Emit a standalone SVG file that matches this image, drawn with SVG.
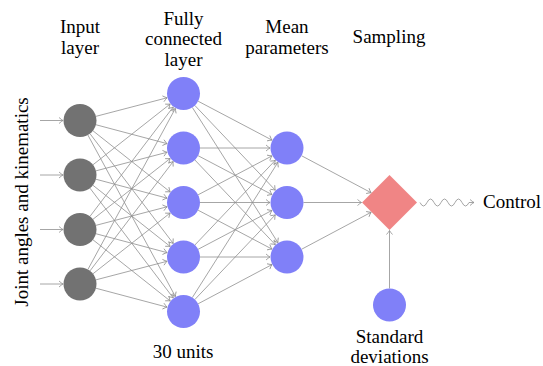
<svg xmlns="http://www.w3.org/2000/svg" width="543" height="366" viewBox="0 0 543 366">
<style>
.t{font-family:"Liberation Serif",Tinos,"Times New Roman",Times,"Noto Serif","DejaVu Serif",FreeSerif,serif;font-size:19px;fill:#000}
.c{text-anchor:middle}
.in{fill:#727272}
.hd{fill:#8080f8}
.e line,.e path{stroke:#8f8f8f;stroke-width:0.8;fill:none;marker-end:url(#a)}
</style>
<defs>
<marker id="a" viewBox="-5 -4 6 8" refX="0" refY="0" markerWidth="6" markerHeight="8" markerUnits="userSpaceOnUse" orient="auto" overflow="visible">
<path d="M-4,-3 Q-1.5,-0.8 0,0 Q-1.5,0.8 -4,3" fill="none" stroke="#8f8f8f" stroke-width="0.8"/>
</marker>
</defs>
<rect width="543" height="366" fill="#fff"/>
<g id="headers" class="t">
<text class="c" x="80" y="33">Input</text>
<text class="c" x="80" y="53.5">layer</text>
<text class="c" x="183.5" y="24.5">Fully</text>
<text class="c" x="183.5" y="45">connected</text>
<text class="c" x="183.5" y="65.5">layer</text>
<text class="c" x="287" y="33">Mean</text>
<text class="c" x="287" y="53.5">parameters</text>
<text class="c" x="389" y="43">Sampling</text>
<text class="c" x="183" y="358">30 units</text>
<text class="c" transform="translate(28,202) rotate(-90)">Joint angles and kinematics</text>
</g>
<g id="connectors" class="e">
<line x1="40" y1="120.5" x2="63" y2="120.5"/>
<line x1="40" y1="175" x2="63" y2="175"/>
<line x1="40" y1="229.5" x2="63" y2="229.5"/>
<line x1="40" y1="284" x2="63" y2="284"/>
<line x1="95.97" y1="116.33" x2="167.05" y2="97.79"/>
<line x1="95.95" y1="124.74" x2="167.07" y2="143.63"/>
<line x1="92.93" y1="130.75" x2="170.18" y2="191.94"/>
<line x1="89.97" y1="133.65" x2="173.23" y2="243.45"/>
<line x1="87.86" y1="135.01" x2="175.40" y2="296.55"/>
<line x1="92.96" y1="164.79" x2="170.14" y2="104.02"/>
<line x1="95.97" y1="170.83" x2="167.05" y2="152.29"/>
<line x1="95.95" y1="179.24" x2="167.07" y2="198.13"/>
<line x1="92.93" y1="185.25" x2="170.18" y2="246.44"/>
<line x1="89.97" y1="188.15" x2="173.23" y2="297.95"/>
<line x1="89.99" y1="216.37" x2="173.20" y2="107.03"/>
<line x1="92.96" y1="219.29" x2="170.14" y2="158.52"/>
<line x1="95.97" y1="225.33" x2="167.05" y2="206.79"/>
<line x1="95.95" y1="233.74" x2="167.07" y2="252.63"/>
<line x1="92.93" y1="239.75" x2="170.18" y2="300.94"/>
<line x1="87.88" y1="269.50" x2="175.38" y2="108.44"/>
<line x1="89.99" y1="270.87" x2="173.20" y2="161.53"/>
<line x1="92.96" y1="273.79" x2="170.14" y2="213.02"/>
<line x1="95.97" y1="279.83" x2="167.05" y2="261.29"/>
<line x1="95.95" y1="288.24" x2="167.07" y2="307.13"/>
<line x1="198.10" y1="101.19" x2="271.96" y2="140.08"/>
<line x1="194.86" y1="105.47" x2="275.29" y2="190.17"/>
<line x1="192.33" y1="107.44" x2="277.91" y2="242.64"/>
<line x1="200" y1="148" x2="270" y2="148"/>
<line x1="198.10" y1="155.69" x2="271.96" y2="194.58"/>
<line x1="194.86" y1="159.97" x2="275.29" y2="244.67"/>
<line x1="198.10" y1="194.81" x2="271.96" y2="155.92"/>
<line x1="200" y1="202.5" x2="270" y2="202.5"/>
<line x1="198.10" y1="210.19" x2="271.96" y2="249.08"/>
<line x1="194.86" y1="245.03" x2="275.29" y2="160.33"/>
<line x1="198.10" y1="249.31" x2="271.96" y2="210.42"/>
<line x1="200" y1="257" x2="270" y2="257"/>
<line x1="192.33" y1="297.56" x2="277.91" y2="162.36"/>
<line x1="194.86" y1="299.53" x2="275.29" y2="214.83"/>
<line x1="198.10" y1="303.81" x2="271.96" y2="264.58"/>
<line x1="301.57" y1="155.75" x2="371.11" y2="192.72"/>
<line x1="303.5" y1="202.5" x2="361.5" y2="202.5"/>
<line x1="301.57" y1="249.25" x2="371.11" y2="212.28"/>
<line x1="389.5" y1="288.5" x2="389.5" y2="230.5"/>
<path d="M420,202.5 q3.5,7 7,0 t7,0 t7,0 t7,0 t7,0 t7,0 t7,0 l5,0"/>
</g>
<g id="input-layer">
<circle class="in" cx="80" cy="120.5" r="16.5"/>
<circle class="in" cx="80" cy="175" r="16.5"/>
<circle class="in" cx="80" cy="229.5" r="16.5"/>
<circle class="in" cx="80" cy="284" r="16.5"/>
</g>
<g id="hidden-layer">
<circle class="hd" cx="183.5" cy="93.5" r="16.5"/>
<circle class="hd" cx="183.5" cy="148" r="16.5"/>
<circle class="hd" cx="183.5" cy="202.5" r="16.5"/>
<circle class="hd" cx="183.5" cy="257" r="16.5"/>
<circle class="hd" cx="183.5" cy="311.5" r="16.5"/>
</g>
<g id="mean-layer">
<circle class="hd" cx="287" cy="148" r="16.5"/>
<circle class="hd" cx="287" cy="202.5" r="16.5"/>
<circle class="hd" cx="287" cy="257" r="16.5"/>
</g>
<g id="sampling">
<polygon points="389.5,175 417,202.5 389.5,230 362,202.5" fill="#f08585"/>
</g>
<g id="std" class="t">
<circle class="hd" cx="389.5" cy="305" r="16.5"/>
<text class="c" x="389.5" y="343">Standard</text>
<text class="c" x="389.5" y="363">deviations</text>
</g>
<g id="control" class="t">
<text x="483" y="208">Control</text>
</g>
</svg>
